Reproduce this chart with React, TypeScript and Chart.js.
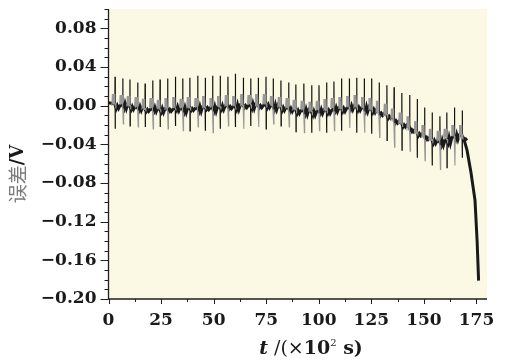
import React, { useEffect, useRef } from 'react';
import { Chart, registerables } from 'chart.js';

Chart.register(...registerables);

// ---- data ----
const xTickValues = [0, 25, 50, 75, 100, 125, 150, 175];
const yTickValues = [-0.2, -0.16, -0.12, -0.08, -0.04, 0, 0.04, 0.08];
const X_MIN = 0;
const X_MAX = 180;
const Y_MIN = -0.2;
const Y_MAX = 0.1;

const startLevel = 0.003;

const spikeT = [3.1, 6.8, 10.2, 13.9, 17.4, 21.0, 24.5, 28.1, 31.8, 35.3, 38.7, 42.4, 46.0, 49.5, 53.1, 56.8, 60.3, 64.1, 67.6, 71.2, 74.9, 78.3, 82.0, 85.7, 89.1, 92.9, 96.6, 100.1, 103.7, 107.2, 110.8, 114.5, 118.0, 121.6, 125.1, 128.7, 132.4, 135.8, 139.5, 143.2, 146.8, 150.3, 153.9, 157.6, 160.9, 164.5, 168.2];

const spikeUp = [0.030, 0.028, 0.027, 0.024, 0.023, 0.026, 0.027, 0.028, 0.030, 0.028, 0.029, 0.031, 0.029, 0.031, 0.031, 0.030, 0.033, 0.029, 0.028, 0.029, 0.030, 0.028, 0.026, 0.024, 0.022, 0.023, 0.021, 0.021, 0.024, 0.025, 0.028, 0.028, 0.029, 0.028, 0.028, 0.024, 0.021, 0.019, 0.013, 0.011, 0.007, -0.002, -0.007, -0.011, -0.007, -0.002, -0.005];

const spikeDown = [-0.024, -0.019, -0.021, -0.022, -0.022, -0.024, -0.022, -0.024, -0.021, -0.026, -0.026, -0.022, -0.026, -0.028, -0.024, -0.021, -0.022, -0.024, -0.021, -0.022, -0.024, -0.019, -0.021, -0.022, -0.027, -0.028, -0.028, -0.026, -0.028, -0.026, -0.026, -0.023, -0.028, -0.028, -0.029, -0.033, -0.036, -0.043, -0.046, -0.047, -0.054, -0.057, -0.062, -0.066, -0.064, -0.062, -0.054];

const baseLevel = [0.002, 0.001, 0.000, -0.002, -0.003, -0.003, -0.004, -0.003, -0.002, -0.003, -0.002, -0.002, -0.001, -0.002, -0.001, 0.000, 0.000, 0.001, 0.001, 0.001, 0.002, 0.000, -0.001, -0.002, -0.004, -0.005, -0.006, -0.005, -0.004, -0.003, -0.002, -0.001, -0.001, -0.002, -0.003, -0.006, -0.009, -0.013, -0.018, -0.022, -0.027, -0.031, -0.035, -0.037, -0.035, -0.031, -0.030];

const baseMid = [0.000, 0.002, -0.001, -0.001, -0.004, -0.002, -0.003, -0.004, -0.001, -0.002, -0.003, -0.001, -0.002, -0.001, 0.000, -0.001, 0.001, 0.000, 0.002, 0.000, 0.001, 0.001, -0.002, -0.003, -0.005, -0.004, -0.006, -0.004, -0.005, -0.002, -0.003, 0.000, -0.002, -0.001, -0.004, -0.008, -0.011, -0.016, -0.020, -0.025, -0.029, -0.033, -0.036, -0.036, -0.033, -0.030, -0.034];

const baseLow = [-0.003, -0.003, -0.004, -0.005, -0.006, -0.006, -0.007, -0.006, -0.005, -0.007, -0.005, -0.006, -0.004, -0.006, -0.004, -0.003, -0.004, -0.002, -0.003, -0.002, -0.002, -0.004, -0.005, -0.006, -0.008, -0.009, -0.010, -0.008, -0.008, -0.006, -0.006, -0.004, -0.005, -0.006, -0.007, -0.010, -0.013, -0.018, -0.022, -0.027, -0.031, -0.035, -0.039, -0.041, -0.039, -0.035, -0.035];

const greyTop = [0.012, 0.011, 0.010, 0.009, 0.007, 0.008, 0.006, 0.008, 0.009, 0.007, 0.009, 0.008, 0.010, 0.008, 0.010, 0.011, 0.010, 0.012, 0.011, 0.012, 0.012, 0.010, 0.009, 0.008, 0.006, 0.005, 0.004, 0.005, 0.007, 0.008, 0.009, 0.010, 0.011, 0.009, 0.008, 0.005, 0.002, -0.003, -0.007, -0.011, -0.016, -0.020, -0.024, -0.026, -0.024, -0.020, -0.020];

const tailT = [169.2, 170.5, 172.3, 174.3, 175.3, 176.0];
const tailV = [-0.036, -0.046, -0.068, -0.098, -0.140, -0.181];

// ---- build library data from the arrays ----
type P = { x: number; y: number | null };

function buildBand(): P[] {
  const pts: P[] = [{ x: 0, y: startLevel }];
  spikeT.forEach((t, i) => {
    pts.push({ x: t - 0.2, y: baseLevel[i] });
    pts.push({ x: t + 0.6, y: baseLow[i] });
    pts.push({ x: t + 1.1, y: baseMid[i] });
    pts.push({ x: t + 1.7, y: baseLow[i] });
    pts.push({ x: t + 2.4, y: baseMid[i] });
  });
  tailT.forEach((t, i) => pts.push({ x: t, y: tailV[i] }));
  return pts;
}

function buildSpikes(): P[] {
  const pts: P[] = [];
  spikeT.forEach((t, i) => {
    pts.push({ x: t - 0.05, y: baseLevel[i] });
    pts.push({ x: t, y: spikeUp[i] });
    pts.push({ x: t + 0.08, y: i % 2 === 0 ? spikeDown[i] : baseLevel[i] });
    pts.push({ x: t + 0.16, y: baseLevel[i] });
    pts.push({ x: t + 0.18, y: null });
  });
  return pts;
}

function buildGrey(): P[] {
  const pts: P[] = [];
  spikeT.forEach((t, i) => {
    pts.push({ x: t - 1.5, y: baseMid[i] });
    pts.push({ x: t - 1.25, y: greyTop[i] });
    pts.push({ x: t - 1.0, y: baseLevel[i] });
    pts.push({ x: t - 0.75, y: greyTop[i] });
    pts.push({ x: t - 0.5, y: baseMid[i] });
    pts.push({ x: t - 0.3, y: greyTop[i] });
    pts.push({ x: t - 0.1, y: baseLevel[i] });
    pts.push({ x: t + 0.25, y: i % 2 === 1 ? spikeDown[i] : baseLevel[i] });
    pts.push({ x: t + 0.4, y: baseLow[i] });
    pts.push({ x: t + 0.45, y: null });
  });
  return pts;
}

const fmtY = (v: number) => {
  if (Math.abs(v) < 1e-9) return '0.00';
  return v < 0 ? '\u2212' + Math.abs(v).toFixed(2) : v.toFixed(2);
};

const TICK_FONT = { family: '"DejaVu Serif", serif', weight: 'bold' as const, size: 17 };

const bgPlugin = {
  id: 'bgPlugin',
  beforeDraw(chart: any) {
    const { ctx, chartArea } = chart;
    ctx.save();
    ctx.fillStyle = '#fbf9e4';
    ctx.fillRect(chartArea.left, chartArea.top, chartArea.right - chartArea.left, chartArea.bottom - chartArea.top);
    ctx.restore();
  },
};

const axesPlugin = {
  id: 'axesPlugin',
  afterDraw(chart: any) {
    const { ctx, chartArea } = chart;
    const xs = chart.scales.x;
    const ys = chart.scales.y;
    ctx.save();
    ctx.strokeStyle = '#1e1e1e';
    ctx.lineWidth = 1.3;
    ctx.beginPath();
    ctx.moveTo(chartArea.left, chartArea.top);
    ctx.lineTo(chartArea.left, chartArea.bottom);
    ctx.lineTo(chartArea.right, chartArea.bottom);
    ctx.stroke();
    ctx.lineWidth = 1;
    ctx.beginPath();
    for (let k = 0; k <= 30; k++) {
      const v = Y_MIN + k * 0.01;
      const py = Math.round(ys.getPixelForValue(v)) + 0.5;
      const len = k % 4 === 0 ? 8 : 4;
      ctx.moveTo(chartArea.left, py);
      ctx.lineTo(chartArea.left - len, py);
    }
    for (let k = 0; k * 12.5 <= X_MAX; k++) {
      const v = k * 12.5;
      const px = Math.round(xs.getPixelForValue(v)) + 0.5;
      const len = k % 2 === 0 ? 5 : 3;
      ctx.moveTo(px, chartArea.bottom);
      ctx.lineTo(px, chartArea.bottom + len);
    }
    ctx.stroke();

    // x-axis title
    const segs = [
      { t: 't', f: 'italic bold 19px "DejaVu Serif", serif', dy: 0 },
      { t: ' /(', f: '19px "DejaVu Serif", serif', dy: 0 },
      { t: '\u00d7', f: '19px "DejaVu Serif", serif', dy: 0 },
      { t: '10', f: 'bold 19px "DejaVu Serif", serif', dy: 0 },
      { t: '2', f: '10px "DejaVu Serif", serif', dy: -8 },
      { t: ' s)', f: 'bold 19px "DejaVu Serif", serif', dy: 0 },
    ];
    let total = 0;
    const widths = segs.map((s) => {
      ctx.font = s.f;
      const w = ctx.measureText(s.t).width;
      total += w;
      return w;
    });
    let x0 = 311 - total / 2;
    ctx.fillStyle = '#1a1a1a';
    ctx.textBaseline = 'alphabetic';
    ctx.textAlign = 'left';
    segs.forEach((s, i) => {
      ctx.font = s.f;
      ctx.fillText(s.t, x0, 354 + s.dy);
      x0 += widths[i];
    });

    // y-axis title (rotated)
    const ysegs = [
      { t: '\u8bef\u5dee', f: '19px "Noto Sans CJK SC", sans-serif', c: '#7a7a7a' },
      { t: '/V', f: 'bold 18px "DejaVu Serif", serif', c: '#1a1a1a' },
    ];
    let ytotal = 0;
    const yw = ysegs.map((s) => {
      ctx.font = s.f;
      const w = ctx.measureText(s.t).width;
      ytotal += w;
      return w;
    });
    ctx.translate(18, 174);
    ctx.rotate(-Math.PI / 2);
    ctx.textBaseline = 'middle';
    let yx = -ytotal / 2;
    ysegs.forEach((s, i) => {
      ctx.font = s.f;
      ctx.fillStyle = s.c;
      ctx.fillText(s.t, yx, 0);
      yx += yw[i];
    });
    ctx.restore();
  },
};

export default function App() {
  const ref = useRef<HTMLCanvasElement | null>(null);
  useEffect(() => {
    document.body.style.margin = '0';
    const canvas = ref.current;
    if (!canvas) return;
    const chart = new Chart(canvas, {
      type: 'line',
      data: {
        datasets: [
          {
            label: 'grey',
            data: buildGrey() as any,
            borderColor: '#979797',
            borderWidth: 1.1,
            pointRadius: 0,
            spanGaps: false,
            tension: 0,
          },
          {
            label: 'band',
            data: buildBand() as any,
            borderColor: '#1a1a1a',
            borderWidth: 3,
            pointRadius: 0,
            tension: 0,
          },
          {
            label: 'spikes',
            data: buildSpikes() as any,
            borderColor: '#111111',
            borderWidth: 1.2,
            pointRadius: 0,
            spanGaps: false,
            tension: 0,
          },
        ],
      },
      options: {
        animation: false,
        responsive: false,
        devicePixelRatio: 1,
        layout: { padding: { top: 9, right: 20, left: 0, bottom: 0 } },
        plugins: { legend: { display: false }, tooltip: { enabled: false }, title: { display: false } },
        scales: {
          x: {
            type: 'linear',
            min: X_MIN,
            max: X_MAX,
            afterBuildTicks: (s: any) => {
              s.ticks = xTickValues.map((v) => ({ value: v }));
            },
            afterFit: (s: any) => {
              s.height = 64;
              s.paddingLeft = 0;
              s.paddingRight = 0;
            },
            grid: { display: true, drawOnChartArea: false, drawTicks: true, tickLength: 5, color: 'rgba(0,0,0,0)' },
            border: { display: false },
            ticks: {
              autoSkip: false,
              maxRotation: 0,
              padding: 6,
              color: '#1a1a1a',
              font: TICK_FONT,
              callback: (v: any) => String(v),
            },
          },
          y: {
            type: 'linear',
            min: Y_MIN,
            max: Y_MAX,
            afterBuildTicks: (s: any) => {
              s.ticks = yTickValues.map((v) => ({ value: v }));
            },
            afterFit: (s: any) => {
              s.width = 108.5;
              s.paddingTop = 0;
              s.paddingBottom = 0;
            },
            grid: { display: true, drawOnChartArea: false, drawTicks: true, tickLength: 8, color: 'rgba(0,0,0,0)' },
            border: { display: false },
            ticks: {
              autoSkip: false,
              padding: 4,
              color: '#1a1a1a',
              font: TICK_FONT,
              callback: (v: any) => fmtY(Number(v)),
            },
          },
        },
      } as any,
      plugins: [bgPlugin, axesPlugin],
    });
    return () => chart.destroy();
  }, []);
  return (
    <div style={{ width: 507, height: 363, background: '#ffffff' }}>
      <canvas ref={ref} width={507} height={363} style={{ display: 'block' }} />
    </div>
  );
}
